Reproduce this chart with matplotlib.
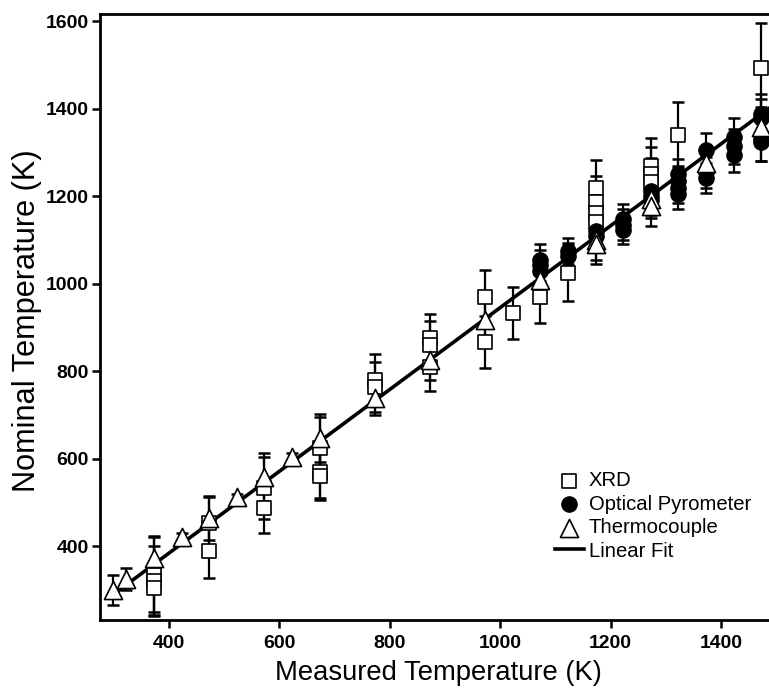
import matplotlib
matplotlib.use("Agg")
import matplotlib.pyplot as plt
from matplotlib import font_manager

# XRD (open squares)
xrd_x = [373, 373, 373, 473, 473, 573, 573, 673, 673, 673, 773, 773, 873, 873, 873,
         973, 973, 1023, 1073, 1123, 1173, 1173, 1173, 1173, 1273, 1273, 1273, 1323, 1473]
xrd_y = [335, 320, 305, 453, 389, 533, 487, 625, 570, 560, 780, 764, 876, 860, 810,
         970, 867, 933, 970, 1025, 1219, 1187, 1162, 1141, 1270, 1252, 1233, 1340, 1494]
xrd_err = [85, 80, 62, 60, 62, 70, 57, 70, 60, 55, 60, 58, 55, 55, 55,
           62, 60, 60, 60, 65, 65, 60, 60, 55, 64, 60, 55, 75, 103]

# Optical pyrometer (filled circles)
pyro_x = [1073, 1073, 1073, 1123, 1123, 1173, 1173, 1223, 1223, 1223, 1273, 1273, 1273,
          1323, 1323, 1323, 1323, 1373, 1373, 1373, 1423, 1423, 1423, 1473, 1473, 1473, 1473]
pyro_y = [1055, 1042, 1030, 1075, 1063, 1120, 1110, 1148, 1135, 1122, 1212, 1200, 1192,
          1250, 1235, 1220, 1205, 1305, 1255, 1242, 1335, 1315, 1295, 1388, 1378, 1330, 1325]
pyro_err = [35, 35, 30, 30, 30, 30, 30, 35, 35, 30, 35, 35, 35,
            35, 35, 35, 35, 40, 35, 35, 45, 40, 40, 45, 45, 50, 45]

# Thermocouple (open triangles)
tc_x = [298, 323, 373, 423, 473, 523, 573, 623, 673, 773, 873, 973, 1073, 1173, 1173,
        1273, 1273, 1373, 1473]
tc_y = [299, 325, 373, 421, 464, 512, 558, 604, 647, 739, 826, 917, 1009, 1100, 1090,
        1195, 1178, 1276, 1359]
tc_err = [34, 25, 50, 8, 50, 8, 55, 8, 55, 40, 45, 45, 40, 45, 45,
          45, 45, 40, 45]

# linear fit end points
fit_x = [306, 1490]
fit_y = [296, 1404]

names = {f.name for f in font_manager.fontManager.ttflist}
if "Liberation Sans Narrow" in names:
    fam = ["Liberation Sans Narrow", "DejaVu Sans"]
    scale = 1.0
else:
    fam = ["Liberation Sans", "DejaVu Sans"]
    scale = 0.82
plt.rcParams["font.family"] = fam

fig = plt.figure(figsize=(7.69, 6.91), dpi=100)
ax = fig.add_axes([100 / 769, 71 / 691, 669 / 769, 606 / 691])

ax.plot(fit_x, fit_y, color="black", lw=2.6, zorder=2, label="Linear Fit")

eb = dict(fmt="none", ecolor="black", elinewidth=1.6, capsize=4.5, capthick=1.8, zorder=3)
ax.errorbar(xrd_x, xrd_y, yerr=xrd_err, **eb)
ax.errorbar(pyro_x, pyro_y, yerr=pyro_err, **eb)
ax.errorbar(tc_x, tc_y, yerr=tc_err, **eb)

sq = ax.scatter(xrd_x, xrd_y, marker="s", s=100, facecolor="white", edgecolor="black",
                linewidth=1.2, zorder=4, label="XRD")
ci = ax.scatter(pyro_x, pyro_y, marker="o", s=120, facecolor="black", edgecolor="black",
                zorder=5, label="Optical Pyrometer")
tr = ax.scatter(tc_x, tc_y, marker="^", s=170, facecolor="white", edgecolor="black",
                linewidth=1.2, zorder=6, label="Thermocouple")

ax.set_xlim(275, 1487)
ax.set_ylim(231, 1617)
ax.set_xticks([400, 600, 800, 1000, 1200, 1400])
ax.set_yticks([400, 600, 800, 1000, 1200, 1400, 1600])
for s in ["left", "bottom", "top"]:
    ax.spines[s].set_linewidth(2.0)
ax.spines["right"].set_visible(False)
ax.tick_params(direction="out", length=6, width=1.8)
ax.tick_params(axis="x", pad=5)
ax.tick_params(axis="y", pad=2)
for lab in ax.get_xticklabels() + ax.get_yticklabels():
    lab.set_fontweight("bold")
    lab.set_fontsize(17 * scale)

ax.set_xlabel("Measured Temperature (K)", fontsize=24 * scale)
ax.set_ylabel("Nominal Temperature (K)", fontsize=27 * scale)
ax.xaxis.set_label_coords((438 - 100) / 669, (620 - 673) / 606)
ax.xaxis.label.set_va("center")
ax.yaxis.set_label_coords((27 - 100) / 669, (620 - 321) / 606)
ax.yaxis.label.set_va("center")

line_handle = ax.get_lines()[0]
ax.legend([sq, ci, tr, line_handle], ["XRD", "Optical Pyrometer", "Thermocouple", "Linear Fit"],
          loc="upper left", bbox_to_anchor=(545 / 769, 1 - 461 / 691),
          bbox_transform=fig.transFigure, frameon=False, fontsize=17.8 * scale,
          borderpad=0, labelspacing=0.22, handlelength=1.4, handletextpad=0.25)

fig.savefig("out.png", dpi=100)
